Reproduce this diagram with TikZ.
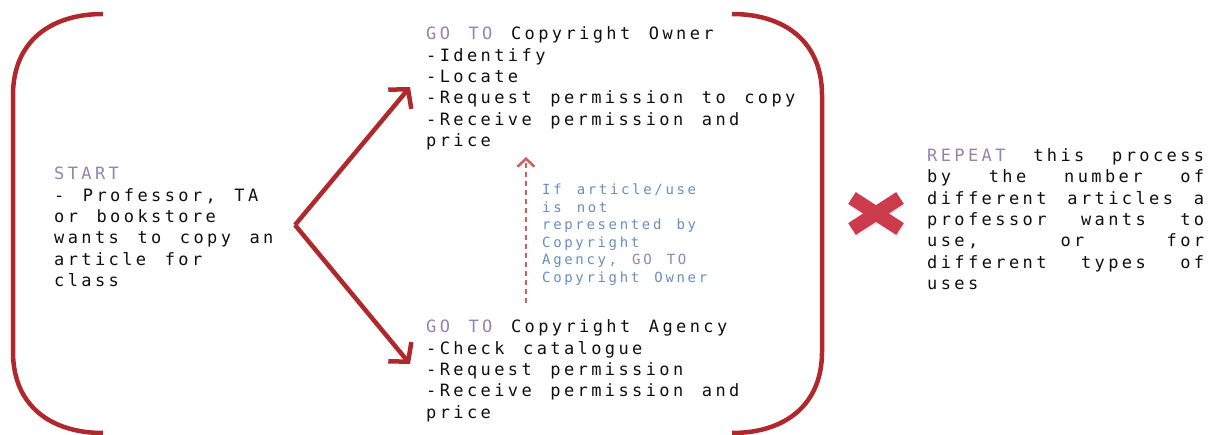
\documentclass[tikz,border=0pt]{standalone}
\usepackage{fontspec}
\usetikzlibrary{arrows.meta}

% Monospaced body text with wide tracking and matching word spaces
\newfontfamily\bodyfont[LetterSpace=20, WordSpace=1.36]{DejaVu Sans Mono}
\newfontfamily\notefont[LetterSpace=19, WordSpace=1.36]{DejaVu Sans Mono}

\definecolor{bracketred}{RGB}{176,40,44}
\definecolor{dashred}{RGB}{212,92,92}
\definecolor{crossred}{RGB}{204,59,76}
\definecolor{keyword}{RGB}{152,128,176}
\definecolor{noteblue}{RGB}{104,142,190}
\definecolor{ink}{RGB}{15,15,15}

\newcommand{\kw}[1]{\textcolor{keyword}{#1}}

\begin{document}
\begin{tikzpicture}[x=1pt,y=-1pt,
  body/.style={anchor=base west, inner sep=0pt, align=left, text=ink,
    font=\bodyfont\fontsize{17}{21.3}\selectfont},
  note/.style={anchor=base west, inner sep=0pt, align=left, text=noteblue,
    font=\notefont\fontsize{14}{17.5}\selectfont},
  bracket/.style={draw=bracketred, line width=4.5pt},
  forkarrow/.style={draw=bracketred, line width=4.5pt,
    -{Straight Barb[length=13pt,width=30pt]}},
  fallback/.style={draw=dashred, line width=2.5pt, dash pattern=on 5pt off 4pt,
    -{Straight Barb[length=8pt,width=17pt]}},
  crossarm/.style={line width=14pt, line cap=butt}]
\useasboundingbox (0,0) rectangle (1209,435);

% Enclosing round brackets
\draw[bracket] (103,14) .. controls (50,14) and (13,42) .. (13,95)
  -- (13,352) .. controls (13,405) and (50,433) .. (103,433);
\draw[bracket] (732,14) .. controls (785,14) and (822,42) .. (822,95)
  -- (822,352) .. controls (822,405) and (785,433) .. (732,433);

% Text blocks (each anchored at the baseline of its last line)
\node[body] (start) at (54,286.5) {\kw{START}\\- Professor, TA\\or bookstore\\wants to copy an\\article for\\class};

\node[body] (owner) at (426,146.5) {\kw{GO TO} Copyright Owner\\-Identify\\-Locate\\-Request permission to copy\\-Receive permission and\\price};

\node[body] (agency) at (426,418) {\kw{GO TO} Copyright Agency\\-Check catalogue\\-Request permission\\-Receive permission and\\price};

\node[note] (cond) at (542,282.5) {If article/use\\is not\\represented by\\Copyright\\Agency, \kw{GO TO}\\Copyright Owner};

\node[body] (again) at (927,289.4) {%
  \hbox to 277pt{\kw{REPEAT}\hfill this\hfill process}\\
  \hbox to 277pt{by\hfill the\hfill number\hfill of}\\
  \hbox to 277pt{different\hfill articles\hfill a}\\
  \hbox to 277pt{professor\hfill wants\hfill to}\\
  \hbox to 277pt{use,\hfill or\hfill for}\\
  \hbox to 277pt{different\hfill types\hfill of}\\
  uses};

% Fork arrows from the start block
\coordinate (fork) at (295,225);
\coordinate (ownertip) at (410,87);
\coordinate (agencytip) at (410,364);
\draw[forkarrow] (fork) -- (ownertip);
\draw[forkarrow] (fork) -- (agencytip);

% Dashed fallback arrow from agency to owner
\coordinate (fallfrom) at (526,303);
\coordinate (fallto) at (526,157);
\draw[fallback] (fallfrom) -- (fallto);

% Repeat cross mark with a soft shadow
\begin{scope}[shift={(1,2)}]
  \draw[crossarm, black, opacity=0.08] (852,198) -- (900,229);
  \draw[crossarm, black, opacity=0.08] (852,229) -- (900,198);
\end{scope}
\draw[crossarm, crossred] (852,198) -- (900,229);
\draw[crossarm, crossred] (852,229) -- (900,198);
\end{tikzpicture}
\end{document}
